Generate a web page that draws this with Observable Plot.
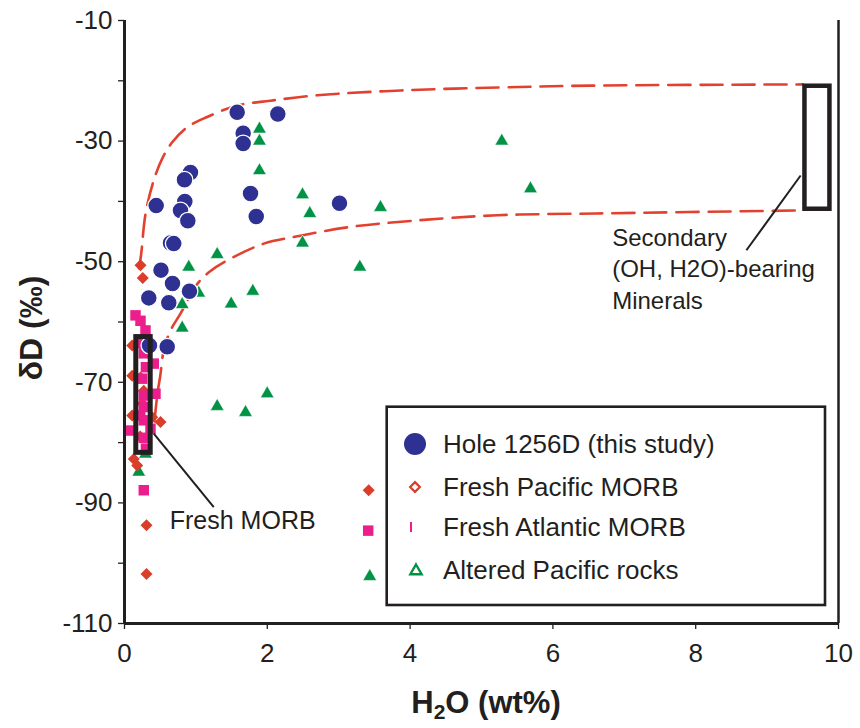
<!DOCTYPE html>
<html>
<head>
<meta charset="utf-8">
<script src="https://cdn.jsdelivr.net/npm/d3@7"></script>
<script src="https://cdn.jsdelivr.net/npm/@observablehq/plot@0.6"></script>
<style>
  html, body { margin: 0; padding: 0; background: white; }
  svg { display: block; }
</style>
</head>
<body>
<script>
// ---- Data ----
// Hole 1256D (this study)
const holeH2O = [1.578, 2.147, 1.662, 1.662, 0.924, 0.84, 0.444, 0.845, 0.784, 0.887, 1.765, 1.845, 0.644, 0.69, 0.511, 0.672, 0.91, 0.34, 0.62, 0.35, 0.598, 3.011];
const holeDD  = [-25.2, -25.5, -28.7, -30.4, -35.2, -36.4, -40.7, -40.0, -41.5, -43.2, -38.7, -42.5, -46.9, -47.0, -51.4, -53.6, -54.9, -56.0, -56.8, -63.9, -64.1, -40.3];

// Fresh Pacific MORB
const pacH2O = [0.224, 0.256, 0.108, 0.108, 0.224, 0.27, 0.108, 0.388, 0.504, 0.13, 0.178, 0.308, 0.308, 3.42, 0.25, 0.22];
const pacDD  = [-50.6, -52.7, -63.9, -68.9, -69.2, -71.4, -75.5, -75.8, -76.6, -82.7, -83.8, -93.7, -101.8, -87.9, -73.5, -79.0];

// Fresh Atlantic MORB
const atlH2O = [0.154, 0.224, 0.294, 0.27, 0.248, 0.27, 0.27, 0.27, 0.27, 0.41, 0.434, 0.084, 0.364, 0.27, 3.413, 0.25, 0.3, 0.22, 0.3];
const atlDD  = [-58.9, -59.8, -61.4, -65.2, -69.4, -72.2, -74.1, -76.3, -79.2, -66.9, -71.9, -78.0, -77.7, -87.9, -94.6, -63.5, -67.5, -75.5, -81.0];

// Altered Pacific rocks
const altH2O = [1.89, 1.89, 1.89, 5.284, 5.686, 2.493, 2.595, 3.585, 2.493, 3.296, 1.298, 0.90, 1.797, 1.494, 0.808, 0.808, 1.999, 1.298, 1.695, 1.04, 0.294, 0.2, 3.435];
const altDD  = [-28.0, -30.0, -34.9, -30.0, -37.9, -38.9, -42.0, -41.0, -46.9, -50.9, -48.8, -50.9, -54.9, -57.0, -57.1, -61.0, -71.9, -74.0, -75.0, -55.2, -81.9, -84.9, -102.2];

// Mixing envelope curves (dashed)
const upperH2O = [0.203, 0.234, 0.294, 0.41, 0.528, 0.668, 0.878, 1.158, 1.578, 2.045, 2.70, 3.87, 5.27, 6.53, 9.5];
const upperDD  = [-51.1, -48.7, -42.1, -36.5, -32.9, -30.2, -27.7, -26.0, -24.1, -23.3, -22.4, -21.6, -21.1, -20.8, -20.6];
const lowerH2O = [0.42, 0.46, 0.5, 0.55, 0.64, 0.784, 1.018, 1.2, 1.438, 1.951, 2.465, 3.119, 4.05, 5.22, 6.6, 9.5];
const lowerDD  = [-76.5, -72.0, -69.0, -64.7, -61.5, -58.6, -53.7, -51.6, -49.8, -47.0, -45.7, -44.3, -43.2, -42.3, -42.0, -41.5];

// Field boxes: Fresh MORB, Secondary minerals
const boxX1 = [0.165, 9.53];
const boxX2 = [0.367, 9.88];
const boxY1 = [-62.5, -20.9];
const boxY2 = [-81.7, -41.3];

// Leader lines
const leadX1 = [0.41, 9.47];
const leadY1 = [-78.5, -35.7];
const leadX2 = [1.25, 8.71];
const leadY2 = [-90.7, -48.1];

// Annotation labels
const noteText = ["Fresh MORB", "Secondary\n(OH, H2O)-bearing\nMinerals"];
const noteX = [0.634, 6.83];
const noteY = [-94.4, -57.8];
const noteSize = [25, 24];

// Ticks
const xTicks = [0, 2, 4, 6, 8, 10];
const yTicks = [-110, -90, -70, -50, -30, -10];
const yMinor = [-100, -80, -60, -40, -20];

// Legend
const legendLabels = ["Hole 1256D (this study)", "Fresh Pacific MORB", "Fresh Atlantic MORB", "Altered Pacific rocks"];

const colors = { hole: "#2e3192", pac: "#db3d2b", atl: "#ec1e8c", alt: "#009245", curve: "#e2412f", ink: "#231f20" };

const zip = (xs, ys) => xs.map((x, i) => ({ x, y: ys[i] }));
const hole = zip(holeH2O, holeDD);
const pac = zip(pacH2O, pacDD);
const atl = zip(atlH2O, atlDD);
const alt = zip(altH2O, altDD);
const upper = zip(upperH2O, upperDD);
const lower = zip(lowerH2O, lowerDD);
const boxes = boxX1.map((x1, i) => ({ x1, x2: boxX2[i], y1: boxY1[i], y2: boxY2[i], w: i === 0 ? 5 : 4.5 }));
const leads = leadX1.map((x1, i) => ({ x1, y1: leadY1[i], x2: leadX2[i], y2: leadY2[i] }));
const notes = noteText.map((t, i) => ({ t, x: noteX[i], y: noteY[i], s: noteSize[i] }));

const font = "'Liberation Sans', Arial, Helvetica, sans-serif";

const chart = Plot.plot({
  width: 860,
  height: 728,
  marginLeft: 124,
  marginRight: 22,
  marginTop: 20,
  marginBottom: 105,
  x: { domain: [0, 10] },
  y: { domain: [-110, -10] },
  style: { fontFamily: font, fontSize: "26px", color: colors.ink, background: "white", overflow: "visible" },
  marks: [
    Plot.line(upper, { x: "x", y: "y", stroke: colors.curve, strokeWidth: 2.6, strokeDasharray: "22,10", curve: "catmull-rom" }),
    Plot.line(lower, { x: "x", y: "y", stroke: colors.curve, strokeWidth: 2.6, strokeDasharray: "22,10", curve: "catmull-rom" }),
    Plot.dot(alt, { x: "x", y: "y", symbol: "triangle", r: 5.1, fill: colors.alt, stroke: "white", strokeWidth: 0.6 }),
    Plot.dot(pac, { x: "x", y: "y", symbol: "diamond2", r: 5.4, fill: colors.pac, stroke: "none" }),
    Plot.dot(atl, { x: "x", y: "y", symbol: "square", r: 5.9, fill: colors.atl, stroke: "none" }),
    Plot.dot(hole, { x: "x", y: "y", r: 8.4, fill: colors.hole, stroke: "white", strokeWidth: 1.3 }),
    Plot.rect(boxes, { x1: "x1", x2: "x2", y1: "y1", y2: "y2", fill: "none", stroke: colors.ink, strokeWidth: "w" }),
    Plot.link(leads, { x1: "x1", y1: "y1", x2: "x2", y2: "y2", stroke: colors.ink, strokeWidth: 2 }),
    Plot.text(notes, { x: "x", y: "y", text: "t", fontSize: "s", textAnchor: "start", lineAnchor: "bottom", lineHeight: 1.31, fill: colors.ink, fontFamily: font }),
    Plot.ruleX([0], { stroke: colors.ink, strokeWidth: 3 }),
    Plot.ruleX([10], { stroke: colors.ink, strokeWidth: 2.5 }),
    Plot.ruleY([-110], { stroke: colors.ink, strokeWidth: 3 }),
    Plot.axisX(xTicks, { tickSize: 6, tickPadding: 14, fontSize: 26, label: null, tickFormat: d => String(d), strokeWidth: 1.3, fill: colors.ink, stroke: colors.ink }),
    Plot.axisY(yTicks, { tickSize: 6, tickPadding: 6, fontSize: 26, label: null, tickFormat: d => String(d), strokeWidth: 1.3, fill: colors.ink, stroke: colors.ink }),
    Plot.axisY(yMinor, { tickSize: 6, tickFormat: () => "", label: null, strokeWidth: 1.3, stroke: colors.ink })
  ]
});

document.body.append(chart);

// ---- Axis titles and legend ----
const svg = d3.select(chart);

const xt = svg.append("text")
  .attr("x", 486).attr("y", 713)
  .attr("text-anchor", "middle")
  .style("font-family", font).style("font-weight", "bold").style("font-size", "31px")
  .attr("fill", colors.ink);
xt.append("tspan").text("H");
xt.append("tspan").text("2").style("font-size", "21px").attr("dy", "6");
xt.append("tspan").text("O (wt%)").attr("dy", "-6");

svg.append("text")
  .attr("transform", "translate(31,328) rotate(-90)")
  .attr("text-anchor", "middle")
  .attr("dominant-baseline", "central")
  .style("font-family", font).style("font-weight", "bold").style("font-size", "32px")
  .attr("fill", colors.ink)
  .text("δD (‰)");

const lg = svg.append("g").attr("text-anchor", "start");
lg.append("rect")
  .attr("x", 386.7).attr("y", 406.7).attr("width", 438.3).attr("height", 198.3)
  .attr("fill", "white").attr("stroke", colors.ink).attr("stroke-width", 2.6);

const rowY = [444, 487, 527, 570];
const symX = 415;
// circle
lg.append("circle").attr("cx", symX).attr("cy", rowY[0]).attr("r", 11).attr("fill", colors.hole);
// open diamond
lg.append("path").attr("d", d3.symbol(d3.symbolDiamond2, 60)())
  .attr("transform", `translate(${symX},${rowY[1]})`)
  .attr("fill", "white").attr("stroke", colors.pac).attr("stroke-width", 2.2);
// tick
lg.append("line").attr("x1", symX - 4).attr("x2", symX - 4).attr("y1", rowY[2] - 5).attr("y2", rowY[2] + 5)
  .attr("stroke", colors.atl).attr("stroke-width", 2);
// open triangle
lg.append("path").attr("d", d3.symbol(d3.symbolTriangle, 55)())
  .attr("transform", `translate(${symX + 1},${rowY[3] + 1})`)
  .attr("fill", "white").attr("stroke", colors.alt).attr("stroke-width", 2.4);

legendLabels.forEach((t, i) => {
  lg.append("text")
    .attr("x", 443).attr("y", rowY[i])
    .attr("text-anchor", "start")
    .attr("dominant-baseline", "central")
    .style("font-family", font).style("font-size", "26px")
    .attr("fill", colors.ink)
    .text(t);
});
</script>
</body>
</html>
